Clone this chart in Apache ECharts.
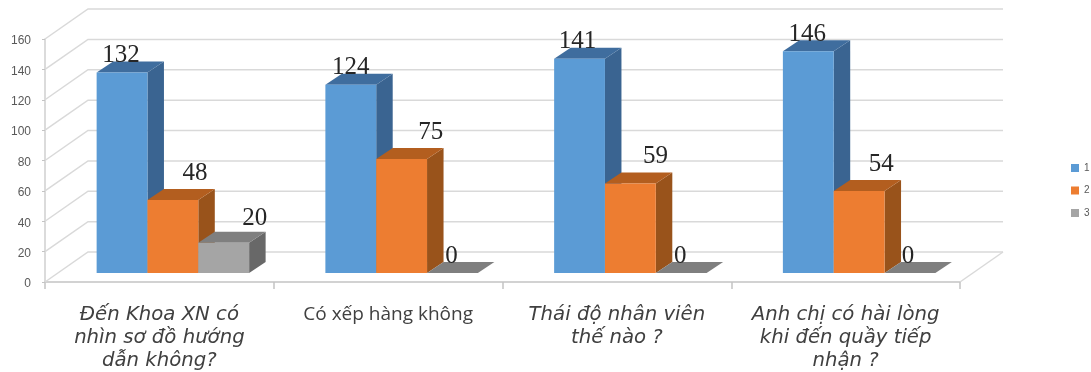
<!DOCTYPE html>
<html>
<head>
<meta charset="utf-8">
<script src="https://cdn.jsdelivr.net/npm/echarts@6/dist/echarts.min.js"></script>
<style>html,body{margin:0;padding:0;background:#fff}#chart{width:1091px;height:372px}</style>
</head>
<body>
<div id="chart"></div>
<script>
// Survey answers per question
const categories = [
  'Đến Khoa XN có\nnhìn sơ đồ hướng\ndẫn không?',
  'Có xếp hàng không',
  'Thái độ nhân viên\nthế nào ?',
  'Anh chị có hài lòng\nkhi đến quầy tiếp\nnhận ?'
];
const categoryItalic = [true, false, true, true];
const seriesNames = ['1', '2', '3'];
const values1 = [132, 124, 141, 146];
const values2 = [48, 75, 59, 54];
const values3 = [20, 0, 0, 0];
const tickValues = [0, 20, 40, 60, 80, 100, 120, 140, 160];

// Fake-3D projection, in pixels
const WALL_DX = 43, WALL_DY = -30;      // front plane to back wall
const BAR_OFFSET_DX = 13.5, BAR_OFFSET_DY = -9; // front plane to bar front face
const BAR_DEPTH_DX = 16.5, BAR_DEPTH_DY = -11;  // bar front face to bar back face
const BAR_BAND_SHARE = 0.2222;          // one bar's share of a category band

const palette = [
  { front: '#5b9bd5', side: '#3a6491', top: '#3f6d9e' },
  { front: '#ed7d31', side: '#99531b', top: '#b35e1f' },
  { front: '#a5a5a5', side: '#686868', top: '#7f7f7f' }
];

// Value-label nudges from the bar's front-top-centre, per series and question
const labelNudges = [
  [[-1, -17], [0, -17], [-2, -17], [-1, -17]],
  [[22, -27], [29, -27], [25, -27], [22, -27]],
  [[31, -24], [-1, -17], [-1, -17], [-2, -17]]
];

const poly = (points, fill) => ({
  type: 'polygon',
  shape: { points },
  style: { fill, stroke: null }
});

function renderBar(s) {
  return function (params, api) {
    const cat = api.value(0), val = api.value(1);
    const band = api.size([1, 0])[0];
    const w = band * BAR_BAND_SHARE;
    const top = api.coord([cat, val]);
    const base = api.coord([cat, 0]);
    const x0 = top[0] + (s - 1.5) * w + BAR_OFFSET_DX;
    const x1 = x0 + w;
    const yT = top[1] + BAR_OFFSET_DY;
    const yB = base[1] + BAR_OFFSET_DY;
    const dx = BAR_DEPTH_DX, dy = BAR_DEPTH_DY;
    const c = palette[s];
    return {
      type: 'group',
      children: [
        poly([[x1, yB], [x1 + dx, yB + dy], [x1 + dx, yT + dy], [x1, yT]], c.side),
        poly([[x0, yT], [x0 + dx, yT + dy], [x1 + dx, yT + dy], [x1, yT]], c.top),
        poly([[x0, yT], [x1, yT], [x1, yB], [x0, yB]], c.front)
      ]
    };
  };
}

// Value labels sit in their own layer so no later bar can cover them
function renderLabel(s) {
  return function (params, api) {
    const cat = api.value(0), val = api.value(1);
    const band = api.size([1, 0])[0];
    const w = band * BAR_BAND_SHARE;
    const top = api.coord([cat, val]);
    const nudge = labelNudges[s][cat];
    return {
      type: 'text',
      style: {
        x: top[0] + (s - 1) * w + BAR_OFFSET_DX + nudge[0],
        y: top[1] + BAR_OFFSET_DY + nudge[1],
        text: String(val),
        font: '25px "Liberation Serif"',
        fill: '#262626',
        align: 'center',
        verticalAlign: 'middle'
      }
    };
  };
}

// Side wall diagonal plus back wall line for each tick value
function renderWall(params, api) {
  const val = api.value(0);
  const band = api.size([1, 0])[0];
  const left = api.coord([0, val]);
  const right = api.coord([categories.length - 1, val]);
  const xL = left[0] - band / 2, xR = right[0] + band / 2, y = left[1];
  const line = {
    type: 'polyline',
    shape: { points: [[xL, y], [xL + WALL_DX, y + WALL_DY], [xR + WALL_DX, y + WALL_DY]] },
    style: { fill: null, stroke: '#d9d9d9', lineWidth: 1.5 }
  };
  if (val !== 0) return line;
  return {
    type: 'group',
    children: [line, {
      type: 'line',
      shape: { x1: xR, y1: y, x2: xR + WALL_DX, y2: y + WALL_DY },
      style: { stroke: '#d9d9d9', lineWidth: 1.5 }
    }]
  };
}

const seriesValues = [values1, values2, values3];
const toPairs = arr => arr.map((v, i) => [i, v]);

const barSeries = seriesValues.map((arr, s) => ({
  name: seriesNames[s],
  type: 'custom',
  renderItem: renderBar(s),
  data: toPairs(arr),
  itemStyle: { color: palette[s].front },
  encode: { x: 0, y: 1 },
  silent: true,
  z: 3
}));

const labelSeries = seriesValues.map((arr, s) => ({
  name: 'labels' + s,
  type: 'custom',
  renderItem: renderLabel(s),
  data: toPairs(arr),
  encode: { x: 0, y: 1 },
  silent: true,
  z: 4
}));

const wallSeries = {
  name: 'wall',
  type: 'custom',
  renderItem: renderWall,
  data: tickValues.map(v => [v]),
  encode: { y: 0 },
  silent: true,
  z: 1
};

const chart = echarts.init(document.getElementById('chart'));
chart.setOption({
  animation: false,
  backgroundColor: '#ffffff',
  grid: { left: 45, right: 131, top: 39, bottom: 90 },
  legend: {
    data: seriesNames,
    orient: 'vertical',
    left: 1066,
    top: 158,
    itemWidth: 8,
    itemHeight: 8,
    itemGap: 12.5,
    icon: 'rect',
    selectedMode: false,
    textStyle: { fontFamily: 'Liberation Sans', fontSize: 10, color: '#595959' }
  },
  xAxis: {
    type: 'category',
    data: categories,
    axisLine: { show: true, lineStyle: { color: '#c4c4c4', width: 1.5 } },
    axisTick: { show: true, length: 7, lineStyle: { color: '#c4c4c4', width: 1.5 } },
    axisLabel: {
      interval: 0,
      margin: 21,
      verticalAlign: 'top',
      // Each line needs its own rich tag; the one upright question gets a different face
      formatter: function (name, i) {
        const tag = categoryItalic[i] ? 'it' : 'up';
        return name.split('\n').map(l => '{' + tag + '|' + l + '}').join('\n');
      },
      rich: {
        it: { fontFamily: 'DejaVu Sans', fontStyle: 'italic', fontSize: 19.7, lineHeight: 23, color: '#404040' },
        up: { fontFamily: 'Open Sans', fontStyle: 'normal', fontSize: 19, lineHeight: 23, color: '#404040' }
      }
    }
  },
  yAxis: {
    type: 'value',
    min: 0,
    max: 160,
    interval: 20,
    axisLine: { show: true, lineStyle: { color: '#cfcfcf', width: 1.5 } },
    axisTick: { show: true, length: 3, lineStyle: { color: '#c4c4c4' } },
    axisLabel: {
      margin: 14,
      formatter: '{n|{value}}',
      rich: { n: { fontFamily: 'Liberation Sans', fontSize: 12, color: '#595959', padding: [4, 0, 0, 0] } }
    },
    splitLine: { show: false }
  },
  series: [wallSeries].concat(barSeries, labelSeries)
});
</script>
</body>
</html>
